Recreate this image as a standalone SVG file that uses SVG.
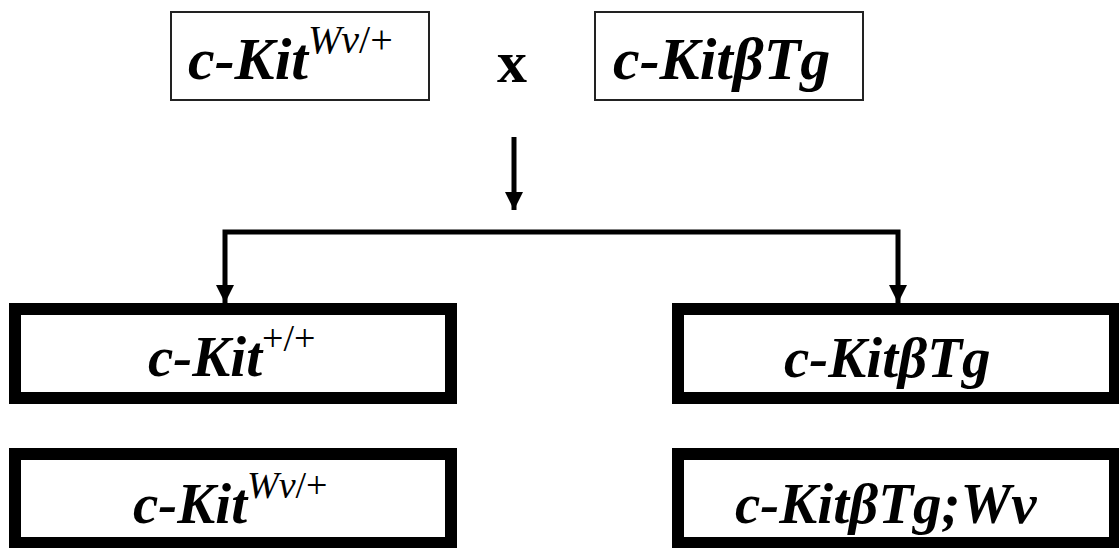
<svg xmlns="http://www.w3.org/2000/svg" width="1119" height="548" viewBox="0 0 1119 548">
  <style>
    .parent { fill: #ffffff; stroke: #222222; stroke-width: 2; }
    .child { fill: #ffffff; stroke: #000000; stroke-width: 12; }
    .lbl { font-family: "Liberation Serif", "Times New Roman", serif; font-weight: bold; font-style: italic; fill: #000000; }
    .sup { font-weight: normal; }
    .supi { font-style: italic; }
    .supn { font-style: normal; }
    .cross { font-family: "Liberation Serif", "Times New Roman", serif; font-weight: bold; font-size: 60px; fill: #000000; }
    .link { fill: none; stroke: #000000; stroke-width: 5; }
  </style>
  <defs>
    <marker id="head" markerUnits="userSpaceOnUse" markerWidth="17" markerHeight="18" refX="18" refY="9" orient="auto-start-reverse">
      <path d="M0,0 L18,9 L0,18 Z" fill="#000000"/>
    </marker>
  </defs>
  <rect width="1119" height="548" fill="#ffffff"/>

  <!-- parents -->
  <g id="parent-wv">
    <rect class="parent" x="171" y="12" width="258" height="88"/>
    <text class="lbl" x="188" y="79" font-size="60">c-Kit<tspan class="sup" font-size="40" dy="-26"><tspan class="supi">Wv</tspan><tspan class="supn">/+</tspan></tspan></text>
  </g>
  <g id="cross">
    <text class="cross" x="512" y="82" text-anchor="middle">x</text>
  </g>
  <g id="parent-tg">
    <rect class="parent" x="595" y="12" width="268" height="88"/>
    <text class="lbl" x="613" y="79" font-size="60">c-KitβTg</text>
  </g>

  <!-- connectors -->
  <g id="connectors">
    <path class="link" d="M514,137 V210" marker-end="url(#head)"/>
    <path class="link" d="M225,303 V232 H898 V303" marker-start="url(#head)" marker-end="url(#head)"/>
  </g>

  <!-- offspring -->
  <g id="wt">
    <rect class="child" x="15" y="309" width="436" height="89"/>
    <text class="lbl" x="148" y="376" font-size="57">c-Kit<tspan class="sup supn" font-size="38" dy="-25">+/+</tspan></text>
  </g>
  <g id="tg">
    <rect class="child" x="678" y="309" width="437" height="89"/>
    <text class="lbl" x="784" y="377" font-size="57">c-KitβTg</text>
  </g>
  <g id="wv">
    <rect class="child" x="15" y="454" width="436" height="89"/>
    <text class="lbl" x="133" y="523" font-size="57">c-Kit<tspan class="sup" font-size="38" dy="-25"><tspan class="supi">Wv</tspan><tspan class="supn">/+</tspan></tspan></text>
  </g>
  <g id="tg-wv">
    <rect class="child" x="678" y="454" width="437" height="89"/>
    <text class="lbl" x="735" y="523" font-size="57">c-KitβTg;Wv</text>
  </g>
</svg>
